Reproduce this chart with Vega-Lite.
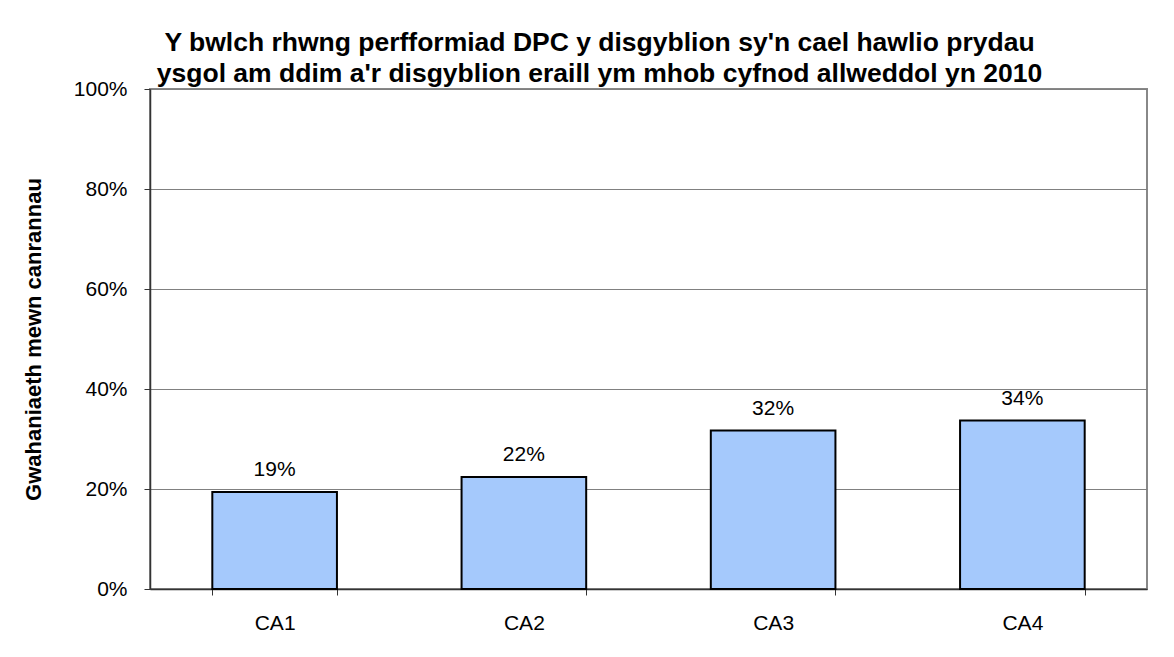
{
  "$schema": "https://vega.github.io/schema/vega-lite/v6.json",
  "autosize": "none",
  "width": 997,
  "height": 500,
  "padding": {"left": 150, "top": 89, "right": 27, "bottom": 68},
  "background": "white",
  "title": {
    "text": ["Y bwlch rhwng perfformiad DPC y disgyblion sy'n cael hawlio prydau", "ysgol am ddim a'r disgyblion eraill ym mhob cyfnod allweddol yn 2010"],
    "font": "Liberation Sans",
    "fontSize": 26.5,
    "fontWeight": "bold",
    "color": "black",
    "lineHeight": 31,
    "anchor": "middle",
    "dx": -49,
    "offset": -9
  },
  "data": {
    "values": [
      {"cyfnod": "CA1", "gwahaniaeth": 0.194},
      {"cyfnod": "CA2", "gwahaniaeth": 0.224},
      {"cyfnod": "CA3", "gwahaniaeth": 0.317},
      {"cyfnod": "CA4", "gwahaniaeth": 0.337}
    ]
  },
  "encoding": {
    "x": {
      "field": "cyfnod",
      "type": "nominal",
      "scale": {"paddingInner": 0.5, "paddingOuter": 0.25},
      "axis": {
        "title": null,
        "labelAngle": 0,
        "labelFont": "Liberation Sans",
        "labelFontSize": 21,
        "labelColor": "black",
        "labelPadding": 17,
        "tickBand": "extent",
        "ticks": true,
        "tickSize": 6,
        "tickColor": "#333333",
        "domainColor": "#333333",
        "domainWidth": 1.5,
        "grid": false
      }
    },
    "y": {
      "field": "gwahaniaeth",
      "type": "quantitative",
      "scale": {"domain": [0, 1], "nice": false},
      "axis": {
        "title": "Gwahaniaeth mewn canrannau",
        "titleFont": "Liberation Sans",
        "titleFontSize": 22,
        "titleFontWeight": "bold",
        "titleColor": "black",
        "titleX": -117,
        "titleY": 250,
        "titleAngle": -90,
        "titleBaseline": "middle",
        "titleAlign": "center",
        "values": [0, 0.2, 0.4, 0.6, 0.8, 1],
        "format": ".0%",
        "labelFont": "Liberation Sans",
        "labelFontSize": 21,
        "labelColor": "black",
        "labelPadding": 17,
        "tickSize": 6,
        "tickColor": "#333333",
        "domainColor": "#333333",
        "domainWidth": 1.5,
        "grid": true,
        "gridColor": "#808080",
        "gridWidth": 1.2
      }
    }
  },
  "layer": [
    {
      "mark": {"type": "bar", "fill": "#a5c9fc", "stroke": "black", "strokeWidth": 2}
    },
    {
      "mark": {"type": "text", "font": "Liberation Sans", "fontSize": 21, "color": "black", "baseline": "alphabetic", "dy": -16},
      "encoding": {
        "text": {"field": "gwahaniaeth", "type": "quantitative", "format": ".0%"}
      }
    }
  ],
  "config": {
    "view": {"stroke": "#888888", "strokeWidth": 2}
  }
}
